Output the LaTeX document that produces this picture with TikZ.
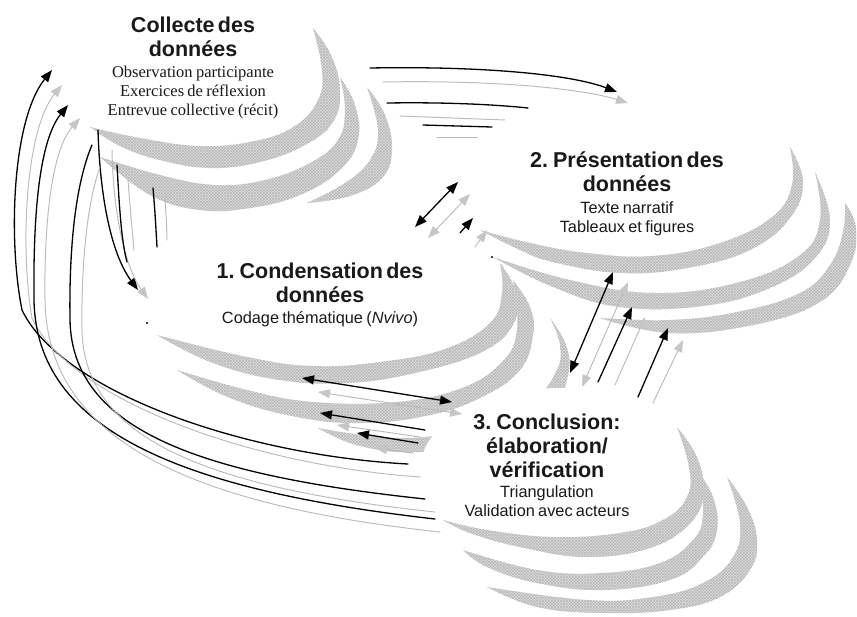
\documentclass[tikz,border=0pt]{standalone}
\usepackage{fontspec}
\newfontfamily\sansf{Liberation Sans}[WordSpace=1.3]
\newfontfamily\seriff{Liberation Serif}
\usetikzlibrary{arrows.meta,patterns}
\newcommand{\ttlfont}{\sansf\bfseries\fontsize{21.5}{24}\selectfont}
\newcommand{\subsans}{\sansf\fontsize{16.3}{18.7}\selectfont}
\newcommand{\subserif}{\seriff\fontsize{16.5}{18.7}\selectfont}
\tikzset{
  crescent/.style={fill=gray!28, postaction={pattern=crosshatch, pattern color=gray!55}},
  occluder/.style={fill=white},
  txt/.style={align=center, text width=330pt, inner sep=0pt, text=black!90},
  blk/.style={line width=1.3pt, black},
  gry/.style={line width=1pt, gray!55, dash pattern=on 2.5pt off 0.8pt},
  bhead/.style={-{Triangle[length=12pt,width=9pt]}},
  ghead/.style={-{Triangle[length=12pt,width=9pt,fill=gray!45,color=gray!45]}},
  bboth/.style={{Triangle[length=12pt,width=9pt]}-{Triangle[length=12pt,width=9pt]}},
  gboth/.style={{Triangle[length=12pt,width=9pt,fill=gray!45,color=gray!45]}-{Triangle[length=12pt,width=9pt,fill=gray!45,color=gray!45]}},
}
\begin{document}
\begin{tikzpicture}[x=1pt,y=-1pt,line cap=round]
\useasboundingbox (0,0) rectangle (857,616);

% ---------- Collecte des donnees : crescents
\fill[crescent] plot[smooth,tension=0.7] coordinates {(313,28) (331,55) (340,90) (333,122) (305,145) (260,162) (210,168) (160,160) (120,146) (90,127)}
  -- plot[smooth,tension=0.7] coordinates {(90,127) (140,138) (200,146) (255,141) (295,126) (318,100) (322,70) (313,28)} -- cycle;
\fill[crescent] plot[smooth,tension=0.7] coordinates {(340,77) (355,105) (358,140) (340,170) (300,195) (250,208) (200,210) (150,195) (100,157)}
  -- plot[smooth,tension=0.7] coordinates {(100,157) (160,175) (215,185) (265,180) (310,163) (338,140) (345,110) (340,77)} -- cycle;
\fill[crescent] plot[smooth,tension=0.7] coordinates {(367,87) (385,115) (392,150) (382,178) (350,196) (307,203)}
  -- plot[smooth,tension=0.7] coordinates {(307,203) (345,183) (370,160) (378,130) (367,87)} -- cycle;

% ---------- Presentation : crescents
\fill[crescent] plot[smooth,tension=0.7] coordinates {(480,230) (520,250) (553,262) (620,273) (687,268) (750,250) (790,218) (803,182) (790,147)}
  -- plot[smooth,tension=0.7] coordinates {(790,147) (792,185) (772,217) (720,243) (653,256) (587,253) (530,243) (480,230)} -- cycle;
\fill[crescent] plot[smooth,tension=0.7] coordinates {(493,257) (553,287) (620,307) (703,306) (770,288) (815,258) (830,220) (815,172)}
  -- plot[smooth,tension=0.7] coordinates {(815,172) (820,220) (800,255) (740,282) (655,293) (570,280) (493,257)} -- cycle;
\fill[crescent] plot[smooth,tension=0.7] coordinates {(600,318) (670,333) (753,325) (820,302) (850,265) (856,228) (845,203)}
  -- plot[smooth,tension=0.7] coordinates {(845,203) (843,232) (830,265) (800,293) (737,312) (670,320) (600,318)} -- cycle;

% ---------- Condensation : crescents
\fill[crescent] plot[smooth,tension=0.7] coordinates {(500,263) (515,290) (514,323) (482,352) (415,373) (347,383) (280,380) (213,363) (157,335)}
  -- plot[smooth,tension=0.7] coordinates {(157,335) (247,357) (313,366) (380,362) (445,349) (490,323) (502,293) (500,263)} -- cycle;
\fill[crescent] plot[smooth,tension=0.7] coordinates {(513,280) (530,307) (533,335) (520,370) (482,397) (430,415) (363,423) (297,417) (230,398) (177,370)}
  -- plot[smooth,tension=0.7] coordinates {(177,370) (247,390) (313,402) (397,402) (462,388) (502,362) (517,330) (513,280)} -- cycle;
\fill[crescent] plot[smooth,tension=0.7] coordinates {(550,318) (566,345) (568,375) (550,410) (490,440) (420,452) (360,446) (318,428)}
  -- plot[smooth,tension=0.7] coordinates {(318,428) (400,438) (470,428) (530,402) (556,372) (560,345) (550,318)} -- cycle;

% ---------- Conclusion : white area and crescents
\fill[occluder] (560,470) ellipse [x radius=140pt, y radius=82pt];
\fill[crescent] plot[smooth,tension=0.7] coordinates {(677,427) (697,457) (703,490) (693,520) (653,547) (587,557) (520,547) (470,533) (443,520)}
  -- plot[smooth,tension=0.7] coordinates {(443,520) (487,530) (553,537) (620,533) (663,520) (687,497) (689,467) (677,427)} -- cycle;
\fill[crescent] plot[smooth,tension=0.7] coordinates {(697,470) (713,497) (717,530) (703,557) (670,580) (603,590) (537,583) (487,567) (463,550)}
  -- plot[smooth,tension=0.7] coordinates {(463,550) (537,570) (603,573) (660,563) (693,540) (703,513) (697,470)} -- cycle;
\fill[crescent] plot[smooth,tension=0.7] coordinates {(727,477) (747,507) (757,540) (750,570) (720,597) (670,610) (603,613) (537,607) (487,587)}
  -- plot[smooth,tension=0.7] coordinates {(487,587) (587,600) (653,597) (703,583) (733,557) (740,523) (727,477)} -- cycle;

% ---------- texts
\node[txt] (collecte) at (193,68) {{\ttlfont Collecte des\\données\par}\vspace{2pt}{\subserif Observation participante\\Exercices de réflexion\\Entrevue collective (récit)\par}};
\node[txt] (presentation) at (627,194) {{\ttlfont 2. Présentation des\\données\par}\vspace{3pt}{\subsans Texte narratif\\Tableaux et figures\par}};
\node[txt] (condensation) at (320,295) {{\ttlfont 1. Condensation des\\données\par}\vspace{3pt}{\subsans Codage thématique (\textit{Nvivo})\par}};
\node[txt] (conclusion) at (547,465) {{\ttlfont 3. Conclusion:\\élaboration/\\vérification\par}\vspace{2pt}{\subsans Triangulation\\Validation avec acteurs\par}};

% ---------- coordinates of connector ends
% Collecte -> Presentation
\coordinate (t1s) at (370,68);  \coordinate (t1e) at (617,92);
\coordinate (t2s) at (383,82);  \coordinate (t2e) at (628,103);
\coordinate (t3s) at (387,103); \coordinate (t3e) at (528,108);
\coordinate (t4s) at (400,116); \coordinate (t4e) at (505,120);
\coordinate (t5s) at (423,125); \coordinate (t5e) at (492,127);
\coordinate (t6s) at (437,137); \coordinate (t6e) at (477,137);
% Condensation <-> Presentation
\coordinate (p1a) at (415,227); \coordinate (p1b) at (458,182);
\coordinate (p2a) at (428,238); \coordinate (p2b) at (470,194);
\coordinate (p3a) at (460,233); \coordinate (p3b) at (473,218);
\coordinate (p4a) at (475,247); \coordinate (p4b) at (487,230);
% Collecte -> Condensation
\coordinate (c1s) at (98,130);  \coordinate (c1e) at (138,290);
\coordinate (c2s) at (112,150); \coordinate (c2e) at (148,299);
\coordinate (c3s) at (117,165); \coordinate (c3e) at (127,262);
\coordinate (c4s) at (128,180); \coordinate (c4e) at (134,250);
\coordinate (c5s) at (153,188); \coordinate (c5e) at (157,247);
\coordinate (c6s) at (165,197); \coordinate (c6e) at (167,240);
% Condensation <-> Conclusion
\coordinate (k1a) at (302,378); \coordinate (k1b) at (452,402);
\coordinate (k2a) at (318,392); \coordinate (k2b) at (462,414);
\coordinate (k3s) at (425,430); \coordinate (k3e) at (320,413);
\coordinate (k4s) at (420,437); \coordinate (k4e) at (337,425);
\coordinate (k5s) at (418,443); \coordinate (k5e) at (357,433);
\coordinate (k6s) at (413,453); \coordinate (k6e) at (375,448);
% Presentation <-> Conclusion
\coordinate (v1a) at (570,373); \coordinate (v1b) at (613,272);
\coordinate (v2a) at (582,387); \coordinate (v2b) at (628,282);
\coordinate (v3s) at (598,382); \coordinate (v3e) at (632,307);
\coordinate (v4s) at (615,385); \coordinate (v4e) at (645,317);
\coordinate (v5s) at (638,397); \coordinate (v5e) at (668,328);
\coordinate (v6s) at (653,403); \coordinate (v6e) at (683,340);
% Conclusion -> Collecte (long loops)
\coordinate (aS) at (408,464); \coordinate (aM) at (22,310);  \coordinate (aE) at (52,70);
\coordinate (bS) at (420,477); \coordinate (bM) at (32,318);  \coordinate (bE) at (62,85);
\coordinate (cS) at (435,519); \coordinate (cM) at (34,300);  \coordinate (cE) at (68,105);
\coordinate (dS) at (440,532); \coordinate (dM) at (45,300);  \coordinate (dE) at (80,118);
\coordinate (eS) at (425,499); \coordinate (eM) at (70,320);  \coordinate (eE) at (92,145);
\coordinate (fS) at (435,512); \coordinate (fM) at (82,330);  \coordinate (fE) at (100,167);
\coordinate (dot1) at (492,257); \coordinate (dot2) at (147,323);

% ---------- connectors
% top flow
\draw[blk,bhead] (t1s) .. controls (480,66) and (570,74) .. (t1e);
\draw[gry,ghead] (t2s) .. controls (490,80) and (580,88) .. (t2e);
\draw[blk] (t3s) .. controls (450,102) and (500,105) .. (t3e);
\draw[gry] (t4s) -- (t4e);
\draw[blk] (t5s) -- (t5e);
\draw[gry] (t6s) -- (t6e);
% condensation <-> presentation
\draw[blk,bboth] (p1a) -- (p1b);
\draw[gry,gboth] (p2a) -- (p2b);
\draw[blk,bhead] (p3a) -- (p3b);
\draw[gry,ghead] (p4a) -- (p4b);
% collecte -> condensation
\draw[blk,bhead] (c1s) .. controls (100,200) and (112,255) .. (c1e);
\draw[gry,ghead] (c2s) .. controls (113,210) and (124,265) .. (c2e);
\draw[blk] (c3s) .. controls (119,200) and (121,240) .. (c3e);
\draw[gry] (c4s) .. controls (130,205) and (132,230) .. (c4e);
\draw[blk] (c5s) .. controls (155,210) and (156,230) .. (c5e);
\draw[gry] (c6s) .. controls (166,215) and (167,230) .. (c6e);
% condensation <-> conclusion
\draw[blk,bboth] (k1a) -- (k1b);
\draw[gry,gboth] (k2a) -- (k2b);
\draw[blk,bhead] (k3s) -- (k3e);
\draw[gry,ghead] (k4s) -- (k4e);
\draw[blk,bhead] (k5s) -- (k5e);
\draw[gry,ghead] (k6s) -- (k6e);
% presentation <-> conclusion
\draw[blk,bboth] (v1a) -- (v1b);
\draw[gry,gboth] (v2a) -- (v2b);
\draw[blk,bhead] (v3s) -- (v3e);
\draw[gry,ghead] (v4s) -- (v4e);
\draw[blk,bhead] (v5s) -- (v5e);
\draw[gry,ghead] (v6s) -- (v6e);
% conclusion -> collecte
\draw[blk,bhead] (aS) .. controls (240,455) and (60,390) .. (aM) .. controls (8,240) and (12,120) .. (aE);
\draw[gry,ghead] (bS) .. controls (250,465) and (70,400) .. (bM) .. controls (20,250) and (25,130) .. (bE);
\draw[blk,bhead] (cS) .. controls (180,490) and (36,430) .. (cM) .. controls (33,210) and (40,140) .. (cE);
\draw[gry,ghead] (dS) .. controls (190,505) and (47,440) .. (dM) .. controls (44,220) and (52,150) .. (dE);
\draw[blk] (eS) .. controls (200,475) and (72,430) .. (eM) .. controls (69,250) and (75,185) .. (eE);
\draw[gry] (fS) .. controls (210,488) and (84,440) .. (fM) .. controls (81,260) and (88,200) .. (fE);
% small dots
\fill (dot1) circle [radius=1.2pt];
\fill (dot2) circle [radius=1.2pt];
\end{tikzpicture}
\end{document}
